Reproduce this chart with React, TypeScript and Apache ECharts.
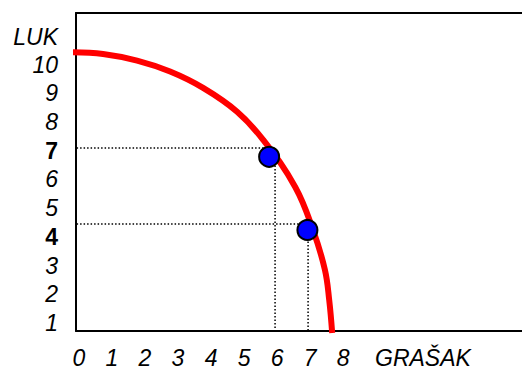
import React, { useEffect, useRef } from "react";
import * as echarts from "echarts";

// Tick labels
const xTickValues = [0, 1, 2, 3, 4, 5, 6, 7, 8];
const xTitle = "GRAŠAK";
const xTitlePos = 10.42;
const yTickValues = [1, 2, 3, 4, 5, 6, 7, 8, 9, 10];
const yTitle = "LUK";
const yTitlePos = 10.96;
const yBoldTicks = [4, 7];

// Production possibility frontier
const frontier: [number, number][] = [
  [-0.21, 10.43],
  [0.73, 10.37],
  [1.76, 10.14],
  [2.76, 9.76],
  [3.76, 9.19],
  [4.79, 8.36],
  [5.58, 7.38],
  [6.55, 5.74],
  [7.09, 4.24],
  [7.45, 2.85],
  [7.58, 1.8],
  [7.67, 0.65],
];

// Highlighted points
const points: [number, number][] = [
  [5.76, 6.79],
  [6.92, 4.24],
];

// Dotted guide lines
const guideH7: [number, number][] = [
  [-0.39, 7.1],
  [5.94, 7.1],
];
const guideV6: [number, number][] = [
  [5.94, 7.1],
  [5.94, 0.72],
];
const guideH4: [number, number][] = [
  [-0.39, 4.45],
  [6.94, 4.45],
];
const guideV7: [number, number][] = [
  [6.94, 4.45],
  [6.94, 0.72],
];

const X_MIN = -0.09;
const X_MAX = 13.42;
const Y_MIN = 0.72;
const Y_MAX = 11.8;

const FONT = "'Liberation Sans', Arial, sans-serif";
const FONT_SIZE = 23;

export default function App() {
  const ref = useRef<HTMLDivElement>(null);

  useEffect(() => {
    if (!ref.current) return;
    const chart = echarts.init(ref.current, undefined, { renderer: "svg" });

    const guideStyle = {
      color: "#000",
      width: 1.5,
      type: [1.5, 2] as any,
    };
    const guide = (data: [number, number][]) => ({
      type: "line",
      data,
      symbol: "none",
      clip: false,
      silent: true,
      lineStyle: guideStyle,
      z: 1,
    });

    chart.setOption({
      animation: false,
      backgroundColor: "#fff",
      grid: { left: 76, top: 13, right: 0, bottom: 43, containLabel: false },
      xAxis: [
        {
          type: "value",
          min: X_MIN,
          max: X_MAX,
          axisLine: { show: true, lineStyle: { color: "#000", width: 2 } },
          axisTick: { show: false },
          splitLine: { show: false },
          axisLabel: {
            customValues: [...xTickValues, xTitlePos],
            margin: 15,
            fontFamily: FONT,
            fontSize: FONT_SIZE,
            fontStyle: "italic",
            color: "#000",
            formatter: (v: number) =>
              Math.abs(v - xTitlePos) < 0.01 ? xTitle : String(v),
          },
        },
        {
          type: "value",
          position: "top",
          min: X_MIN,
          max: X_MAX,
          axisLine: { show: true, onZero: false, lineStyle: { color: "#000", width: 2 } },
          axisTick: { show: false },
          splitLine: { show: false },
          axisLabel: { show: false },
        },
      ],
      yAxis: {
        type: "value",
        min: Y_MIN,
        max: Y_MAX,
        axisLine: { show: true, onZero: false, lineStyle: { color: "#000", width: 2 } },
        axisTick: { show: false },
        splitLine: { show: false },
        axisLabel: {
          customValues: [...yTickValues, yTitlePos],
          margin: 18,
          fontFamily: FONT,
          fontSize: FONT_SIZE,
          fontStyle: "italic",
          color: "#000",
          formatter: (v: number) => {
            if (Math.abs(v - yTitlePos) < 0.01) return yTitle;
            if (yBoldTicks.indexOf(v) >= 0) return "{b|" + v + "}";
            return String(v);
          },
          rich: {
            b: {
              fontFamily: FONT,
              fontSize: FONT_SIZE,
              fontWeight: "bold",
              fontStyle: "normal",
              color: "#000",
            },
          },
        },
      },
      series: [
        guide(guideH7),
        guide(guideV6),
        guide(guideH4),
        guide(guideV7),
        {
          type: "line",
          data: frontier,
          smooth: 0.4,
          symbol: "none",
          clip: false,
          silent: true,
          lineStyle: { color: "#ff0000", width: 6 },
          z: 2,
        },
        {
          type: "scatter",
          data: points,
          symbolSize: 20,
          clip: false,
          itemStyle: { color: "#0000ff", borderColor: "#000", borderWidth: 2, opacity: 1 },
          z: 3,
        },
      ],
    });

    return () => chart.dispose();
  }, []);

  return (
    <div
      ref={ref}
      style={{ position: "fixed", left: 0, top: 0, width: 522, height: 374, background: "#fff" }}
    />
  );
}
